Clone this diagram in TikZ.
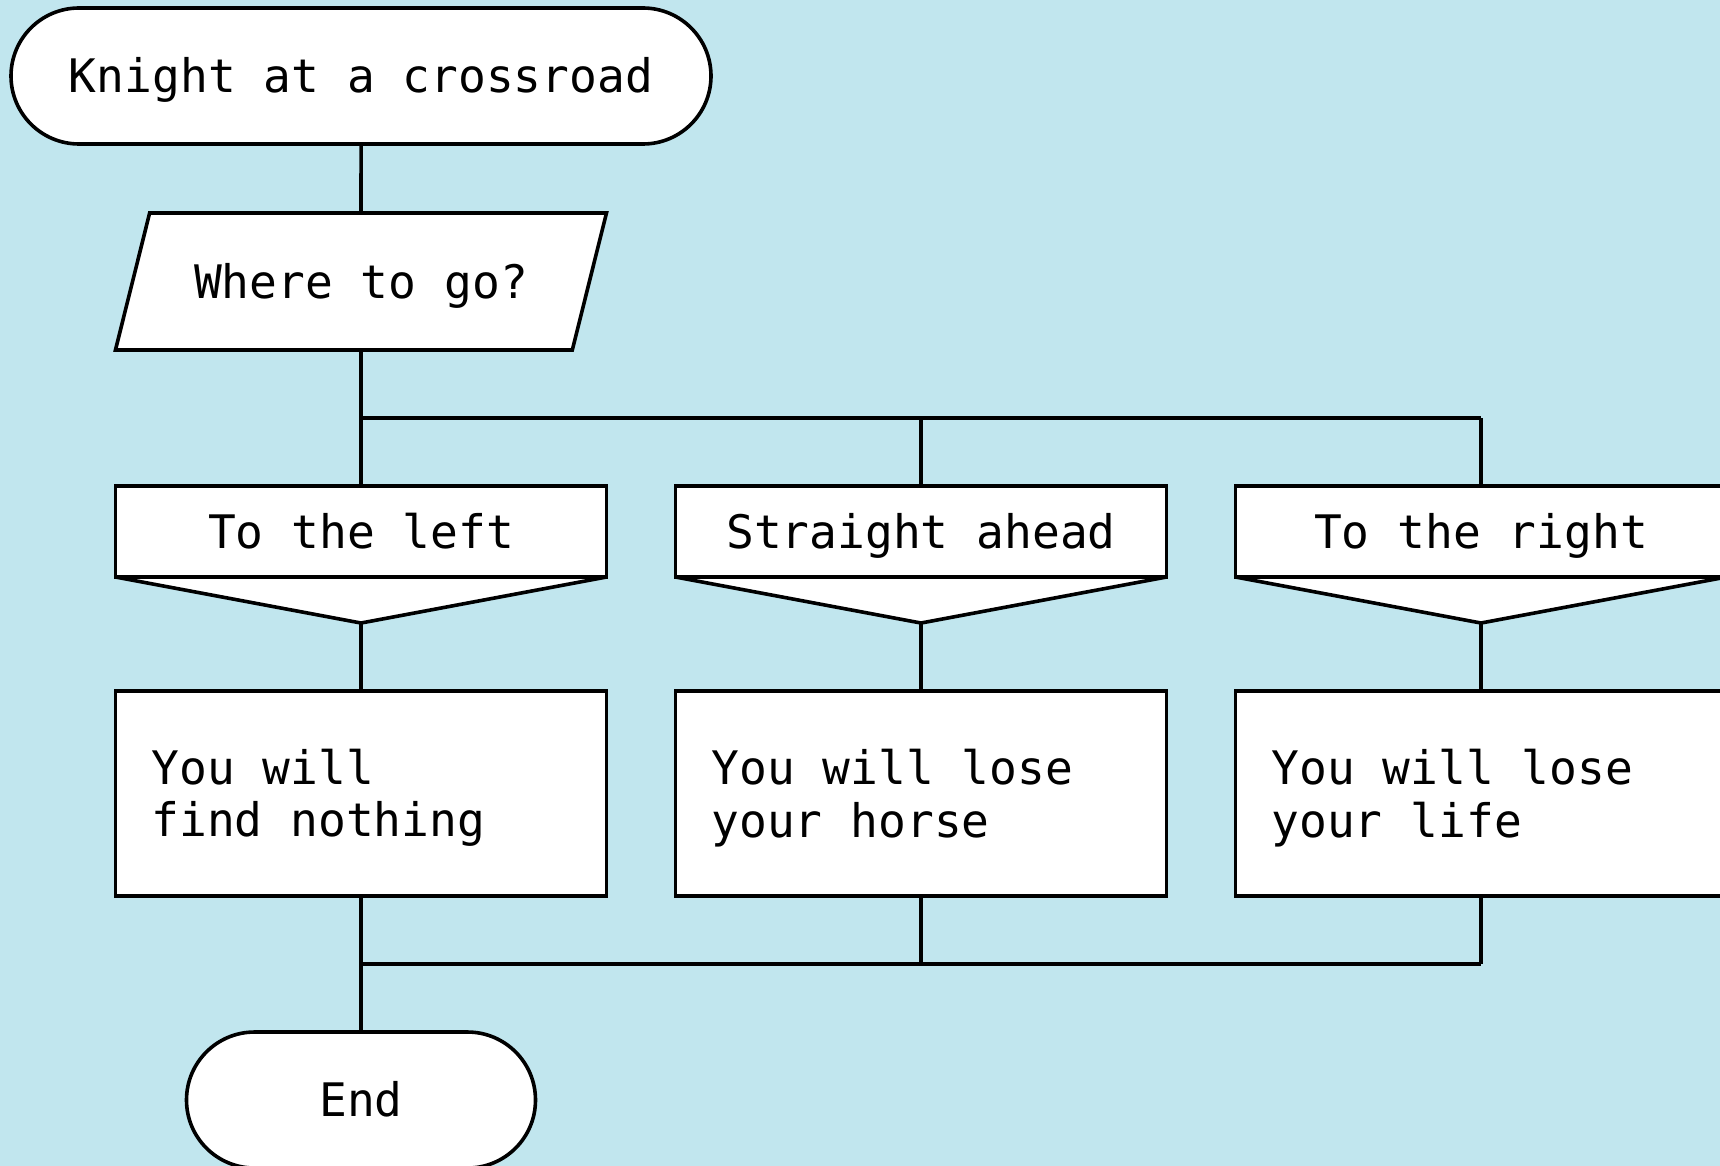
\documentclass[tikz,border=0pt]{standalone}
\usepackage{fontspec}
\setmonofont{DejaVu Sans Mono}
\usepackage{tikz}
\usetikzlibrary{positioning,shapes.misc,shapes.geometric,calc}
\definecolor{skyblue}{RGB}{193,230,238}

\begin{document}
\begin{tikzpicture}[line width=1.8pt, node distance=34.5pt,
	every node/.style={outer sep=0pt, text height=21.5pt, text depth=5pt},
	font=\ttfamily\fontsize{23.1pt}{26.3pt}\selectfont,
	term/.style={draw, fill=white, rounded rectangle, minimum height=68pt, inner sep=0pt},
	io/.style={draw, fill=white, trapezium, trapezium left angle=76, trapezium right angle=104,
		trapezium stretches body, minimum width=245.5pt, inner xsep=0pt, inner ysep=21pt},
	case/.style={draw, fill=white, rectangle, minimum width=245.5pt, minimum height=45.5pt, inner sep=0pt},
	action/.style={draw, fill=white, rectangle, align=flush left, text width=209.5pt,
		text height=22pt, text depth=, inner xsep=18pt, inner ysep=0pt, minimum height=102.5pt,
		execute at begin node={\spaceskip=0pt\relax}}]
	\useasboundingbox (0,0) rectangle (860pt,-583pt);
	\fill[skyblue] (0,0) rectangle (860pt,-583pt);

	\node[term, minimum width=350pt] (start) at (180.5pt,-38pt) {Knight at a crossroad};
	\node[io, below=of start] (where) {Where to go?};
	\node[case, below=68pt of where] (left) {To the left};
	\node[case, right=of left] (ahead) {Straight ahead};
	\node[case, right=of ahead] (right) {To the right};
	\node[action, below=57pt of left] (nothing) {You will\\find nothing};
	\node[action, below=57pt of ahead] (horse) {You will lose\\your horse};
	\node[action, below=57pt of right] (life) {You will lose\\your life};
	\node[term, minimum width=174.5pt, below=68pt of nothing] (end) {End};

	\coordinate[below=34pt of where.south] (fork);
	\coordinate[below=34pt of nothing.south] (join);

	% case triangles
	\foreach \c in {left,ahead,right}{
		\coordinate[below=23pt of \c.south] (\c tip);
		\draw[fill=white] (\c.south west) -- (\c tip) -- (\c.south east) -- cycle;
	}

	\path
		(start) edge (where)
		(where) edge (left)
		(fork) edge (fork -| right)
		(fork -| ahead) edge (ahead)
		(fork -| right) edge (right)
		(lefttip) edge (nothing)
		(aheadtip) edge (horse)
		(righttip) edge (life)
		(nothing) edge (end)
		(join) edge (join -| life)
		(horse) edge (join -| horse)
		(life) edge (join -| life);
\end{tikzpicture}
\end{document}
